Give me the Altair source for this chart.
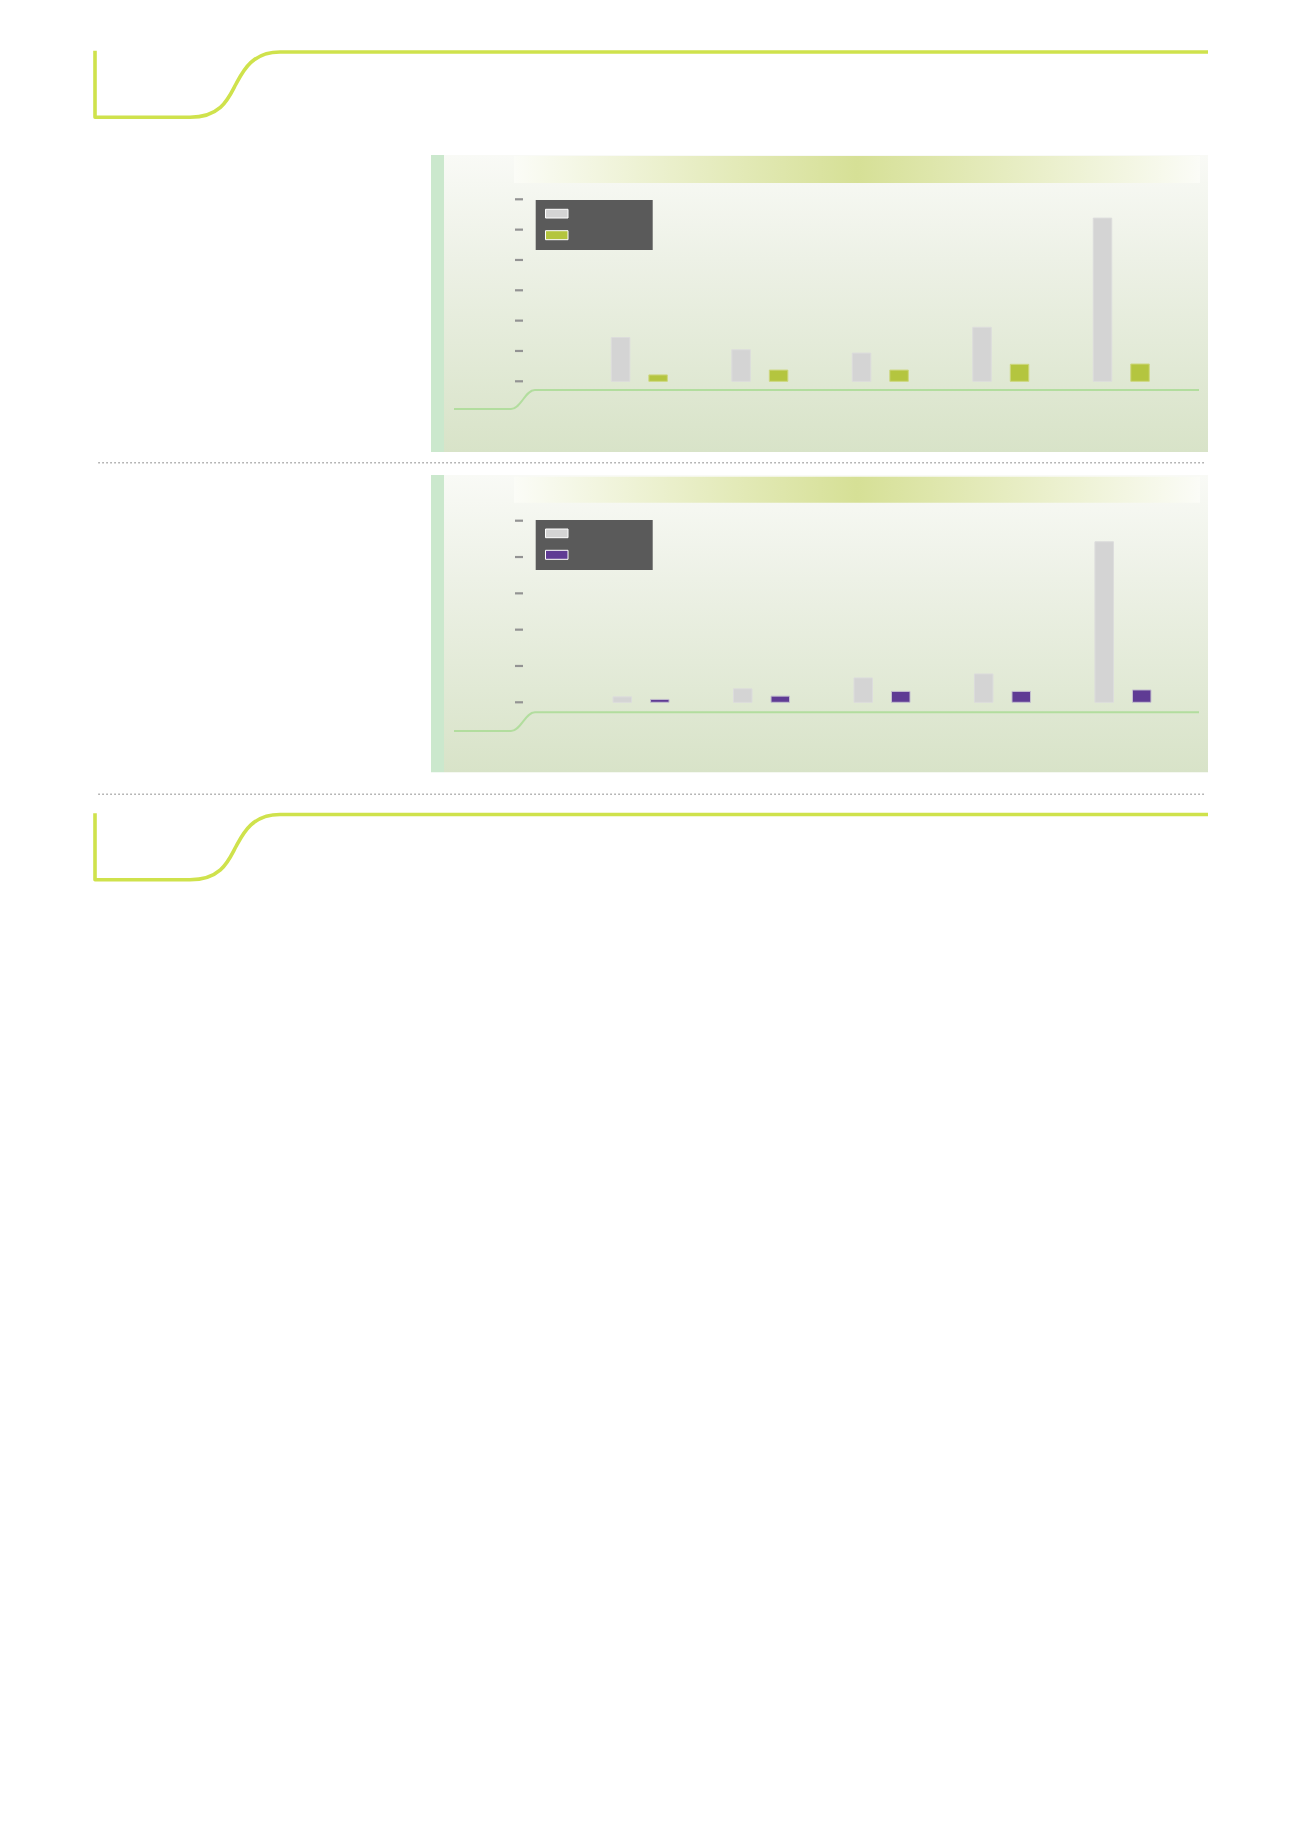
import altair as alt
import pandas as pd

# ---------------- data ----------------
groups = ["Group 1", "Group 2", "Group 3", "Group 4", "Group 5"]

series_top = ["Reference", "Series A"]
top_reference = [1.44, 1.04, 0.93, 1.78, 5.38]
top_series_a = [0.21, 0.37, 0.37, 0.56, 0.57]
top_ticks = [0, 1, 2, 3, 4, 5, 6]

series_bottom = ["Reference ", "Series B"]
bottom_reference = [0.15, 0.37, 0.67, 0.78, 4.42]
bottom_series_b = [0.08, 0.17, 0.30, 0.30, 0.34]
bottom_ticks = [0, 1, 2, 3, 4, 5]

# ---------------- styling ----------------
GRAY = "#d4d4d4"
GREEN = "#b4c53f"
PURPLE = "#5f3b94"
LIME = "#cfe24c"
LINE_GREEN = "#b2dd9e"
STRIP = "#cbe8cd"
LEGEND_BG = "#5a5a5a"
TICK = "#939393"
DOT = "#a2a2a2"

W, H = 1220, 900
one = alt.Data(values=[{"k": 0}])


def path_layer(d, color, width, dy=0):
    return alt.Chart(one).mark_point(
        shape=d, size=4, filled=False, stroke=color, strokeWidth=width,
        opacity=1, strokeCap="butt", strokeJoin="round"
    ).encode(x=alt.value(0), y=alt.value(dy))


def rect(x1, x2, y1, y2, color, stroke=None, sw=0):
    kw = {}
    if stroke is not None:
        kw = dict(stroke=stroke, strokeWidth=sw)
    return alt.Chart(one).mark_rect(color=color, **kw).encode(
        x=alt.value(x1), x2=alt.value(x2), y=alt.value(y1), y2=alt.value(y2)
    )


def rule(x1, x2, y, color, sw, dash=None):
    kw = {}
    if dash is not None:
        kw["strokeDash"] = dash
    return alt.Chart(one).mark_rule(color=color, strokeWidth=sw, **kw).encode(
        x=alt.value(x1), x2=alt.value(x2), y=alt.value(y)
    )


bg_grad = alt.LinearGradient(
    gradient="linear",
    stops=[alt.GradientStop(color="#f9faf6", offset=0),
           alt.GradientStop(color="#edf1e6", offset=0.35),
           alt.GradientStop(color="#d8e3c8", offset=1)],
    x1=0, x2=0, y1=0, y2=1,
)
band_grad = alt.LinearGradient(
    gradient="linear",
    stops=[alt.GradientStop(color="#fbfcf7", offset=0),
           alt.GradientStop(color="#d6e096", offset=0.5),
           alt.GradientStop(color="#fbfcf7", offset=1)],
    x1=0, x2=1, y1=0, y2=0,
)

header_path = ("M87,42.7 L87,109.3 L182,109.3 C214,109.3 221,89 228,76 "
               "C235,63 244,44 272,44 L1200,44")


def panel_deco(top, bottom, band_top, band_bot, line_low, line_high,
               leg_top, sw1, sw2, swatch2_color):
    layers = [
        rect(436, 1200, top, bottom, bg_grad),
        rect(423, 436, top, bottom, STRIP),
        rect(506, 1192, band_top, band_bot, band_grad),
        path_layer(
            f"M446,{line_low} L503,{line_low} C513,{line_low} 517,{line_high} "
            f"527,{line_high} L1191,{line_high}", LINE_GREEN, 2),
        rect(527.7, 644.7, leg_top, leg_top + 50, LEGEND_BG),
        rect(537.5, 560, sw1, sw1 + 8.7, GRAY, "#ffffff", 1),
        rect(537.5, 560, sw2, sw2 + 9, swatch2_color, "#ffffff", 1),
    ]
    return layers


def bar_panel(ref_vals, ser_vals, series, colors, strokes, ticks,
              xrange, yrange, ymax):
    df = pd.DataFrame({
        "group": groups * 2,
        "series": [series[0]] * len(groups) + [series[1]] * len(groups),
        "value": ref_vals + ser_vals,
    })
    tdf = pd.DataFrame({"tick": ticks})
    yscale = alt.Scale(domain=[0, ymax], range=yrange, nice=False, zero=True)
    tick_layer = alt.Chart(tdf).mark_rule(color=TICK, strokeWidth=2.2).encode(
        y=alt.Y("tick:Q", scale=yscale, axis=None),
        x=alt.value(507), x2=alt.value(515),
    )
    bars = alt.Chart(df).mark_bar(strokeWidth=1).encode(
        x=alt.X("group:N", sort=groups, axis=None,
                scale=alt.Scale(domain=groups, range=xrange,
                                paddingInner=0, paddingOuter=0)),
        xOffset=alt.XOffset("series:N", sort=series,
                            scale=alt.Scale(domain=series, paddingInner=0.507,
                                            paddingOuter=0.859)),
        y=alt.Y("value:Q", scale=yscale, axis=None),
        color=alt.Color("series:N", legend=None,
                        scale=alt.Scale(domain=series, range=colors)),
        stroke=alt.Stroke("series:N", legend=None,
                          scale=alt.Scale(domain=series, range=strokes)),
    )
    return alt.layer(tick_layer, bars)


layers = []
# top and bottom header decorations
layers.append(path_layer(header_path, LIME, 3.6, 0))
layers.append(path_layer(header_path, LIME, 3.6, 762.5))

# panel 1
layers += panel_deco(147, 444, 148, 175, 401, 382, 192, 201.3, 222.7, GREEN)
# panel 2
layers += panel_deco(467, 764.3, 468.7, 494.7, 723, 704.3, 512, 521, 542.3, PURPLE)

# dotted separators
layers.append(rule(90.3, 1197, 454.7, DOT, 1.5, [1.5, 2.5]))
layers.append(rule(90.3, 1197, 786.3, DOT, 1.5, [1.5, 2.5]))

panel1 = bar_panel(top_reference, top_series_a, series_top,
                   [GRAY, GREEN], ["#dcdcdc", "#cdd77f"], top_ticks,
                   [571.1, 1173.5], [373.3, 191.3], 6)
panel2 = bar_panel(bottom_reference, bottom_series_b, series_bottom,
                   [GRAY, PURPLE], ["#dcdcdc", "#c4bfcf"], bottom_ticks,
                   [572.8, 1175.2], [694.3, 512.7], 5)

chart = alt.layer(*layers, panel1, panel2).resolve_scale(
    x="independent", y="independent", color="independent",
    stroke="independent", xOffset="independent"
).properties(
    width=W, height=H,
    autosize=alt.AutoSizeParams(type="none"),
    padding=0,
    background="#ffffff",
).configure_view(stroke="transparent", strokeWidth=0)

chart.save("out.html", embed_options={"renderer": "svg", "actions": False})
